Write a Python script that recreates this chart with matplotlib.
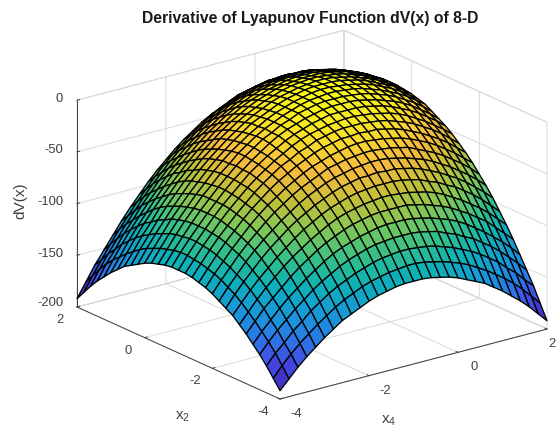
#!/usr/bin/env python3
"""
Surface of dV(x) over x2 and x4, redrawn from a picture of a MATLAB surf plot
"""

import matplotlib
matplotlib.use('Agg')
import matplotlib.pyplot as plt
import numpy as np
from matplotlib.colors import LinearSegmentedColormap, Normalize
from mpl_toolkits.mplot3d import proj3d

plt.rcParams['font.family'] = ['Liberation Sans', 'DejaVu Sans']
plt.rcParams['mathtext.default'] = 'regular'

title = 'Derivative of Lyapunov Function dV(x) of 8-D'
x2_ticks = [-4, -2, 0, 2]
x4_ticks = [-4, -2, 0, 2]
z_ticks = [-200, -150, -100, -50, 0]

# sample positions of the table below
x_grid = [-4.0, -3.8, -3.6, -3.4, -3.2, -3.0, -2.8, -2.6, -2.4, -2.2, -2.0,
          -1.8, -1.6, -1.4, -1.2, -1.0, -0.8, -0.6, -0.4, -0.2, 0.0,
          0.2, 0.4, 0.6, 0.8, 1.0, 1.2, 1.4, 1.6, 1.8, 2.0]

# dV(x), rows are x2 and columns are x4
dv = [
    [-192, -183, -174, -166, -159, -152, -146, -140, -136, -132, -128, -125, -123, -121, -120, -120, -120, -121, -123, -125, -128, -132, -136, -140, -146, -152, -159, -166, -174, -183, -192],
    [-183, -173, -164, -156, -149, -142, -136, -130, -125, -121, -117, -114, -112, -110, -109, -108, -108, -109, -111, -113, -116, -119, -123, -128, -133, -139, -145, -152, -160, -169, -178],
    [-174, -164, -156, -147, -140, -132, -126, -120, -115, -111, -107, -104, -101, -99, -98, -97, -97, -98, -99, -101, -104, -107, -111, -115, -120, -126, -132, -140, -147, -156, -164],
    [-166, -156, -147, -139, -131, -124, -117, -111, -106, -101, -97, -94, -91, -89, -88, -87, -87, -87, -88, -90, -92, -96, -99, -104, -108, -114, -120, -127, -135, -143, -152],
    [-159, -149, -140, -131, -123, -116, -109, -103, -97, -92, -88, -85, -82, -80, -78, -77, -77, -77, -78, -80, -82, -85, -88, -92, -97, -103, -109, -116, -123, -131, -140],
    [-152, -142, -132, -124, -116, -108, -101, -95, -89, -84, -80, -76, -73, -71, -69, -68, -68, -68, -68, -70, -72, -75, -78, -82, -87, -92, -98, -104, -112, -120, -128],
    [-146, -136, -126, -117, -109, -101, -94, -88, -82, -77, -72, -68, -65, -63, -61, -60, -59, -59, -60, -61, -63, -65, -68, -72, -77, -82, -88, -94, -101, -109, -117],
    [-140, -130, -120, -111, -103, -95, -88, -81, -75, -70, -65, -61, -58, -55, -53, -52, -51, -51, -51, -52, -54, -56, -60, -63, -68, -72, -78, -84, -91, -99, -107],
    [-136, -125, -115, -106, -97, -89, -82, -75, -69, -64, -59, -55, -51, -48, -46, -44, -44, -43, -44, -44, -46, -48, -51, -55, -59, -64, -69, -75, -82, -89, -97],
    [-132, -121, -111, -101, -92, -84, -77, -70, -64, -58, -53, -49, -45, -42, -40, -38, -37, -36, -36, -37, -39, -41, -44, -47, -51, -56, -61, -67, -73, -80, -88],
    [-128, -117, -107, -97, -88, -80, -72, -65, -59, -53, -48, -44, -40, -36, -34, -32, -31, -30, -30, -31, -32, -34, -36, -40, -44, -48, -53, -59, -65, -72, -80],
    [-125, -114, -104, -94, -85, -76, -68, -61, -55, -49, -44, -39, -35, -32, -29, -27, -25, -24, -24, -25, -26, -28, -30, -33, -37, -41, -46, -52, -58, -65, -72],
    [-123, -112, -101, -91, -82, -73, -65, -58, -51, -45, -40, -35, -31, -27, -24, -22, -20, -20, -19, -20, -20, -22, -24, -27, -31, -35, -40, -45, -51, -58, -65],
    [-121, -110, -99, -89, -80, -71, -63, -55, -48, -42, -36, -32, -27, -24, -20, -18, -16, -15, -15, -15, -16, -17, -19, -22, -25, -29, -34, -39, -45, -52, -59],
    [-120, -109, -98, -88, -78, -69, -61, -53, -46, -40, -34, -29, -24, -20, -17, -15, -13, -12, -11, -11, -12, -13, -15, -17, -20, -24, -29, -34, -40, -46, -53],
    [-120, -108, -97, -87, -77, -68, -60, -52, -44, -38, -32, -27, -22, -18, -15, -12, -10, -8, -8, -8, -8, -9, -11, -13, -16, -20, -24, -29, -35, -41, -48],
    [-120, -108, -97, -87, -77, -68, -59, -51, -44, -37, -31, -25, -20, -16, -13, -10, -8, -6, -5, -5, -5, -6, -8, -10, -13, -16, -20, -25, -31, -37, -44],
    [-121, -109, -98, -87, -77, -68, -59, -51, -43, -36, -30, -24, -20, -15, -12, -8, -6, -4, -3, -3, -3, -4, -5, -7, -10, -13, -17, -22, -27, -33, -40],
    [-123, -111, -99, -88, -78, -68, -60, -51, -44, -36, -30, -24, -19, -15, -11, -8, -5, -3, -2, -1, -1, -2, -3, -5, -8, -11, -15, -19, -24, -30, -36],
    [-125, -113, -101, -90, -80, -70, -61, -52, -44, -37, -31, -25, -20, -15, -11, -8, -5, -3, -1, 0, 0, -1, -2, -4, -6, -9, -13, -17, -22, -28, -34],
    [-128, -116, -104, -92, -82, -72, -63, -54, -46, -39, -32, -26, -20, -16, -12, -8, -5, -3, -1, 0, 0, 0, -1, -3, -5, -8, -12, -16, -20, -26, -32],
    [-132, -119, -107, -96, -85, -75, -65, -56, -48, -41, -34, -28, -22, -17, -13, -9, -6, -4, -2, -1, 0, 0, -1, -3, -5, -8, -11, -15, -20, -25, -31],
    [-136, -123, -111, -99, -88, -78, -68, -60, -51, -44, -36, -30, -24, -19, -15, -11, -8, -5, -3, -2, -1, -1, -2, -3, -5, -8, -11, -15, -19, -24, -30],
    [-140, -128, -115, -104, -92, -82, -72, -63, -55, -47, -40, -33, -27, -22, -17, -13, -10, -7, -5, -4, -3, -3, -3, -4, -6, -8, -12, -15, -20, -24, -30],
    [-146, -133, -120, -108, -97, -87, -77, -68, -59, -51, -44, -37, -31, -25, -20, -16, -13, -10, -8, -6, -5, -5, -5, -6, -8, -10, -13, -16, -20, -25, -31],
    [-152, -139, -126, -114, -103, -92, -82, -72, -64, -56, -48, -41, -35, -29, -24, -20, -16, -13, -11, -9, -8, -8, -8, -8, -10, -12, -15, -18, -22, -27, -32],
    [-159, -145, -132, -120, -109, -98, -88, -78, -69, -61, -53, -46, -40, -34, -29, -24, -20, -17, -15, -13, -12, -11, -11, -12, -13, -15, -17, -20, -24, -29, -34],
    [-166, -152, -140, -127, -116, -104, -94, -84, -75, -67, -59, -52, -45, -39, -34, -29, -25, -22, -19, -17, -16, -15, -15, -15, -16, -18, -20, -24, -27, -32, -36],
    [-174, -160, -147, -135, -123, -112, -101, -91, -82, -73, -65, -58, -51, -45, -40, -35, -31, -27, -24, -22, -20, -20, -19, -20, -20, -22, -24, -27, -31, -35, -40],
    [-183, -169, -156, -143, -131, -120, -109, -99, -89, -80, -72, -65, -58, -52, -46, -41, -37, -33, -30, -28, -26, -25, -24, -24, -25, -27, -29, -32, -35, -39, -44],
    [-192, -178, -164, -152, -140, -128, -117, -107, -97, -88, -80, -72, -65, -59, -53, -48, -44, -40, -36, -34, -32, -31, -30, -30, -31, -32, -34, -36, -40, -44, -48],
]

# parula, slightly deepened in the blues like the reference
parula_stops = [(0.0, (0.2422, 0.1504, 0.6603)), (0.1, (0.2650, 0.2700, 0.8800)),
                (0.2, (0.1700, 0.4700, 0.9000)), (0.3, (0.0900, 0.6000, 0.8500)),
                (0.4, (0.0500, 0.6900, 0.7200)), (0.5, (0.2000, 0.7500, 0.5400)),
                (0.6, (0.5000, 0.7800, 0.3400)), (0.7, (0.7600, 0.7500, 0.2200)),
                (0.8, (0.9700, 0.7300, 0.2400)), (0.9, (0.9700, 0.8700, 0.1600)),
                (1.0, (0.9760, 0.9840, 0.0800))]
parula = LinearSegmentedColormap.from_list('parula', parula_stops)

fig = plt.figure(figsize=(5.58, 4.32), dpi=100)
ax = fig.add_axes([0.05, 0.05, 0.9, 0.9], projection='3d', proj_type='ortho')
ax.view_init(elev=20.15, azim=232.75)
ax.set_box_aspect((335.7, 335.7, 220.5))

X, Y = np.meshgrid(x_grid, x_grid)
Z = np.array(dv, dtype=float)
ax.plot_surface(X, Y, Z, rstride=1, cstride=1, cmap=parula,
                norm=Normalize(-192, 0), edgecolor='black', linewidth=0.95,
                antialiased=True, shade=False)

ax.set_xlim(-4, 2, view_margin=0)
ax.set_ylim(-4, 2, view_margin=0)
ax.set_zlim(-200, 0, view_margin=0)
ax.set_xticks(x4_ticks, labels=[])
ax.set_yticks(x2_ticks, labels=[])
ax.set_zticks(z_ticks, labels=[])

axis_grey = '#404040'
for axis in (ax.xaxis, ax.yaxis, ax.zaxis):
    axis.set_pane_color((1, 1, 1, 1))
    axis.pane.set_edgecolor('#d9d9d9')
    axis.pane.set_linewidth(0.7)
    axis.line.set_color(axis_grey)
    axis.line.set_linewidth(0.7)
    axis._axinfo['grid'].update(color='#d9d9d9', linewidth=0.7)
    axis._axinfo['tick'].update(inward_factor=0.0, outward_factor=0.12,
                                linewidth={True: 0.7, False: 0.5})
ax.tick_params(axis='both', color=axis_grey)


def to_pixels(x, y, z):
    px, py, _ = proj3d.proj_transform(x, y, z, ax.get_proj())
    return ax.transData.transform((px, py))


def add_label(px, py, text, **kwargs):
    fig.text(px / 558, py / 432, text, color=axis_grey, fontsize=9.4, **kwargs)


# fit the box onto the pixel corners of the original axes
side = 500.0
left, bottom = 30.0, -40.0
for _ in range(3):
    ax.set_position([left / 558, bottom / 432, side / 558, side / 432])
    fig.canvas.draw()
    corner_l = to_pixels(-4, 2, -200)
    corner_r = to_pixels(2, -4, -200)
    scale = 470.0 / (corner_r[0] - corner_l[0])
    side *= scale
    left = 77 - (corner_l[0] - left) * scale
    bottom = (432 - 307) - (corner_l[1] - bottom) * scale
ax.set_position([left / 558, bottom / 432, side / 558, side / 432])
fig.canvas.draw()

# tick labels sit at fixed offsets from their ticks, as in the original
for value in x2_ticks:
    px, py = to_pixels(-4, value, -200)
    add_label(px - 17, py - 13, str(value), ha='center', va='center')
for value in x4_ticks:
    px, py = to_pixels(value, -4, -200)
    # the last label would run off the right edge
    add_label(min(px + 16, 552), py - 15, str(value), ha='center', va='center')
for value in z_ticks:
    px, py = to_pixels(-4, 2, value)
    drop = 4 if value == -200 else 1.5
    add_label(px - 14, py + drop, str(value), ha='right', va='center')

fig.text(310 / 558, 1 - 18 / 432, title, ha='center', va='center',
         fontsize=11.3, fontweight='bold', color='#1a1a1a')
fig.text(183 / 558, 1 - 417 / 432, 'x$_2$', ha='center', va='center', fontsize=11, color=axis_grey)
fig.text(389 / 558, 1 - 421 / 432, 'x$_4$', ha='center', va='center', fontsize=11, color=axis_grey)
fig.text(20 / 558, 1 - 201 / 432, 'dV(x)', ha='center', va='center', rotation=90,
         fontsize=11, color=axis_grey)

fig.savefig('out.png', dpi=100)
